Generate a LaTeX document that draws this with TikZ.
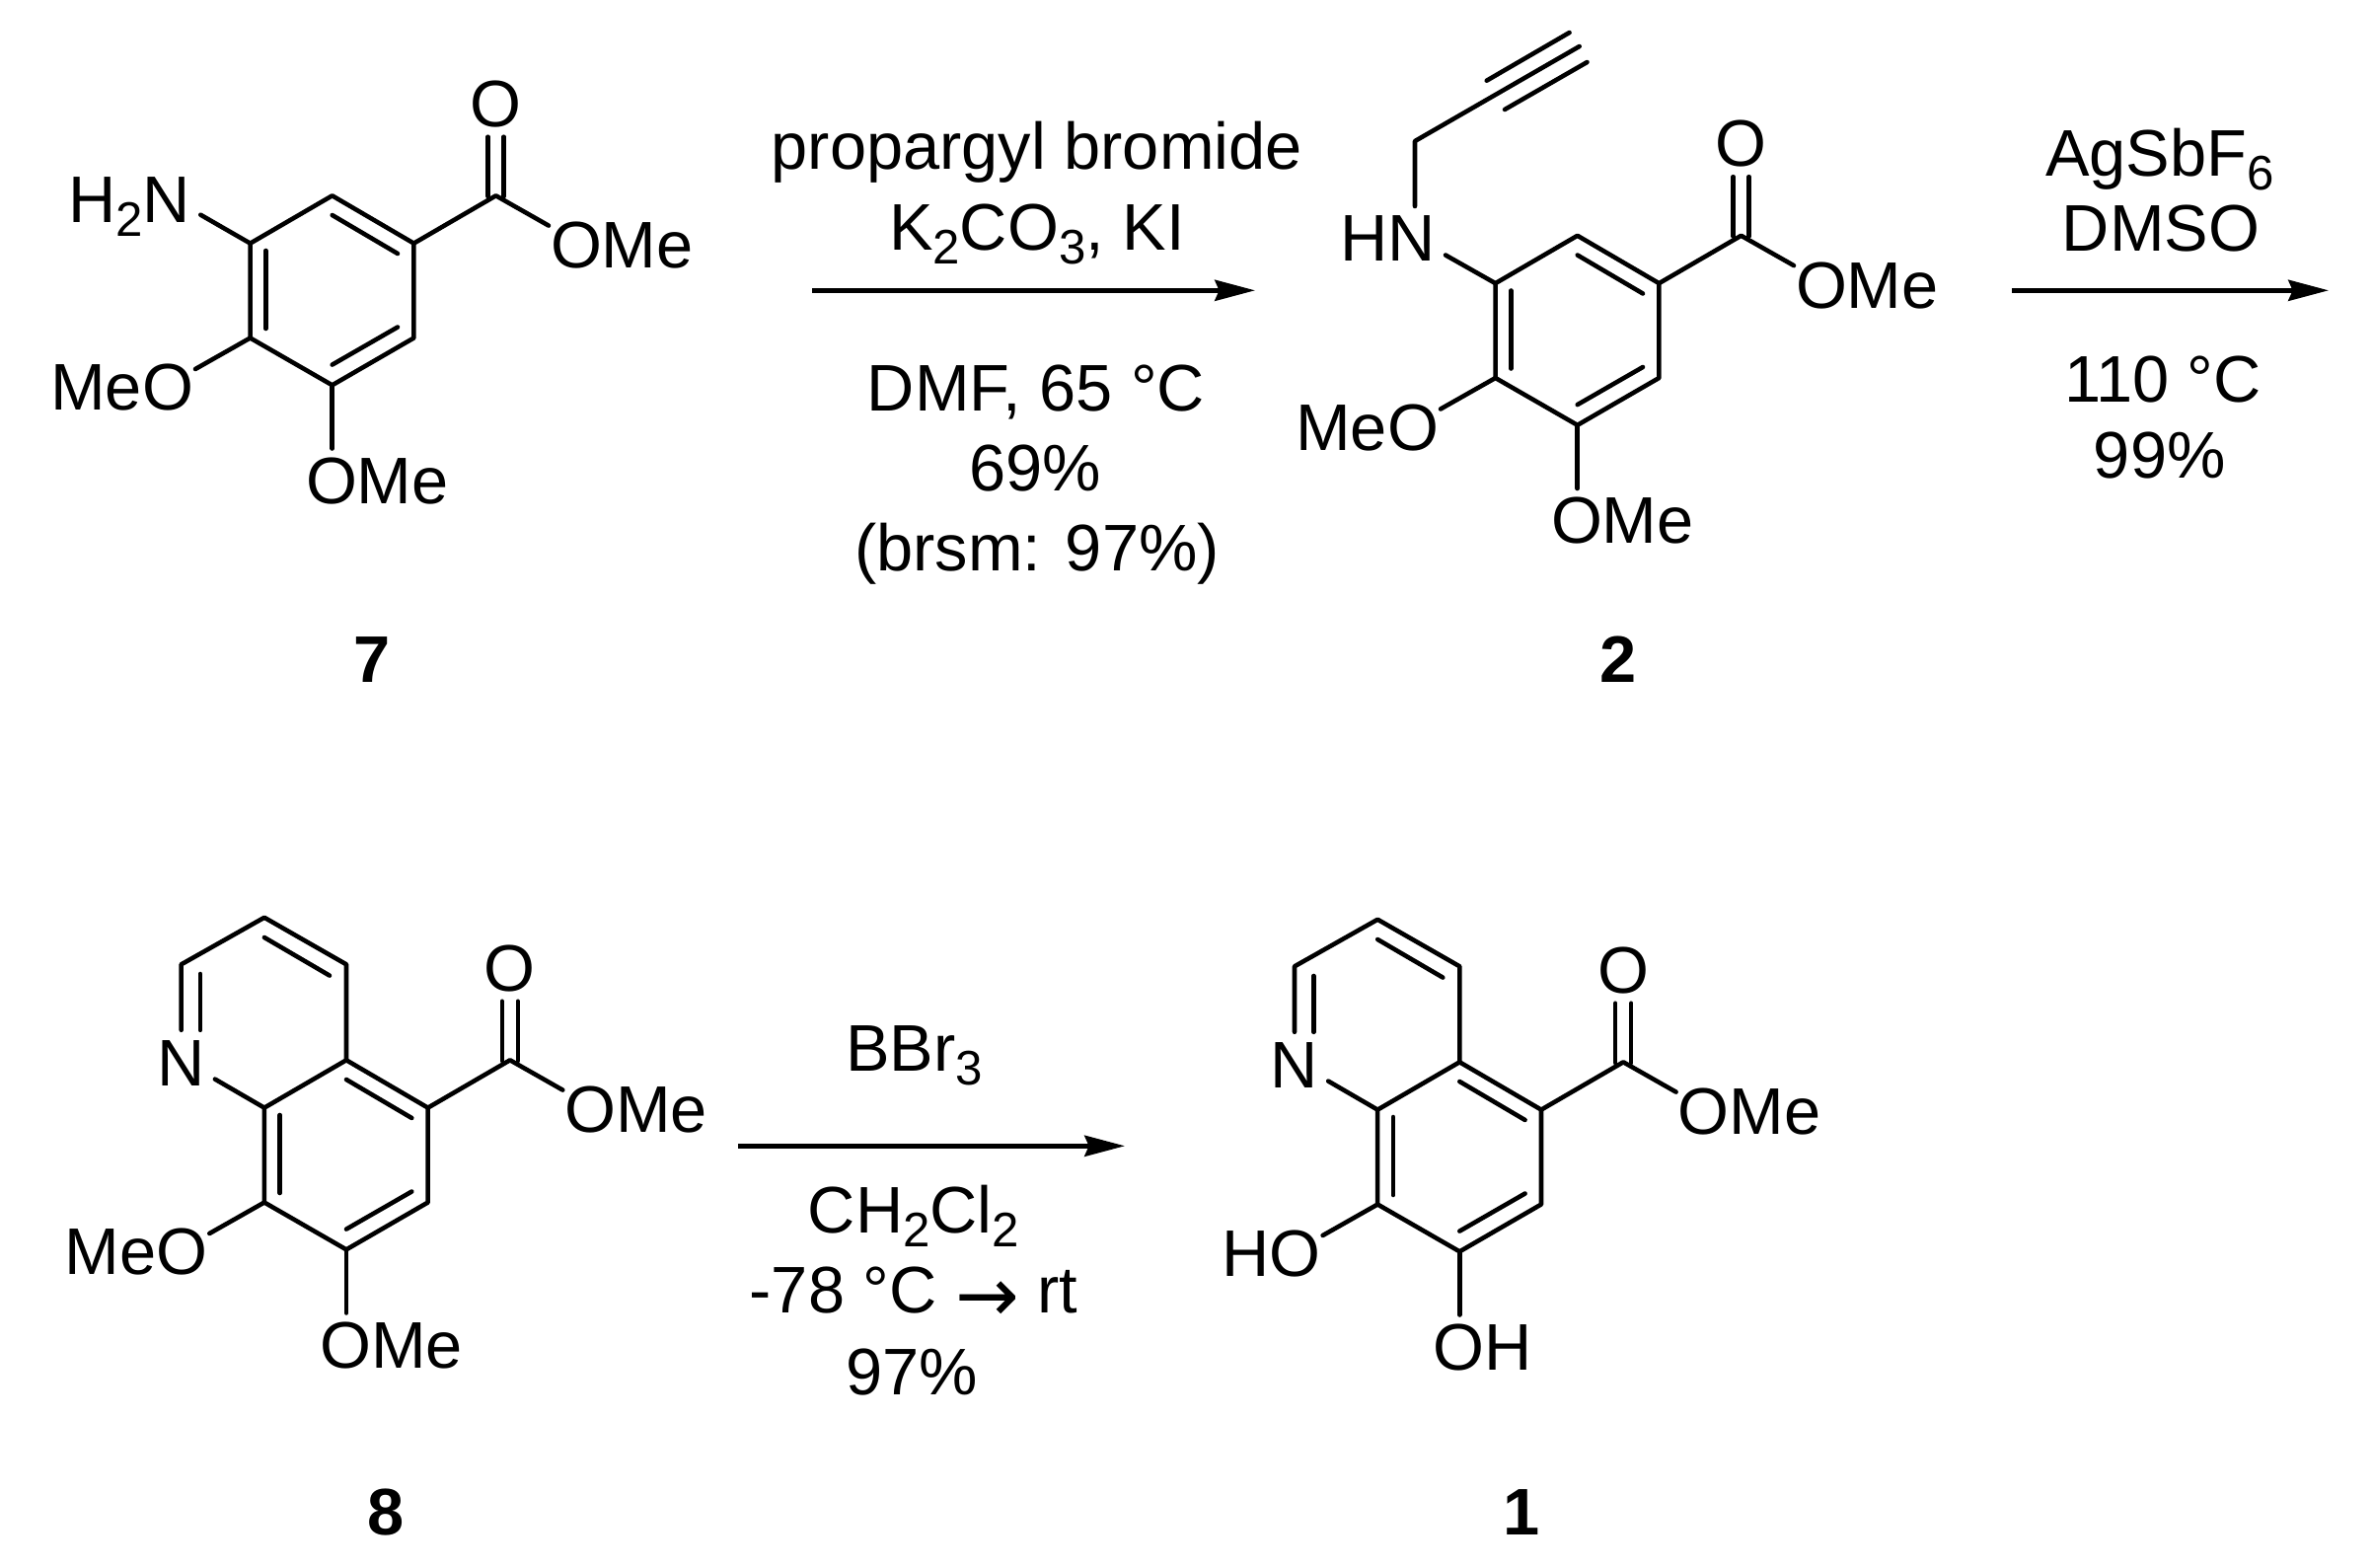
\documentclass[tikz,border=0pt]{standalone}
\usepackage{fontspec}
\setmainfont{Liberation Sans}
\newfontfamily\arrowfont{DejaVu Sans}
\usetikzlibrary{arrows.meta}
\newcommand{\chemsub}[1]{\raisebox{-8pt}{\fontsize{28}{28}\selectfont #1}}
\newcommand{\thinarrow}{{\arrowfont\fontsize{44}{44}\selectfont\raisebox{-5pt}{→}}}
\tikzset{
  bond/.style={draw=black,line width=2.6pt,line cap=round,line join=round},
  rxnarrow/.style={draw=black,line width=2.6pt,-{Stealth[length=23.2pt,width=12pt,inset=2.5pt]}},
  txt/.style={inner sep=0pt,outer sep=0pt,anchor=base,font=\fontsize{38}{42}\selectfont},
  txtw/.style={txt,anchor=base west},
  txte/.style={txt,anchor=base east},
  cmpd/.style={txt,font=\fontsize{38}{42}\selectfont\bfseries}
}
% prefix, dx, dy, left substituent, bottom substituent
\newcommand{\corering}[5]{%
  \begin{scope}[shift={(#2,#3)}]
    \coordinate (#1a) at (336.7,198.3);
    \coordinate (#1b) at (419.4,246.6);
    \coordinate (#1c) at (419.4,342.5);
    \coordinate (#1d) at (336.7,390.3);
    \coordinate (#1e) at (253.6,342.5);
    \coordinate (#1f) at (253.6,246.6);
    \coordinate (#1i1s) at (336.7,218);
    \coordinate (#1i1e) at (403,257);
    \coordinate (#1i2s) at (269.4,254);
    \coordinate (#1i2e) at (269.4,333);
    \coordinate (#1i3s) at (336.7,369.6);
    \coordinate (#1i3e) at (403,331.5);
    \coordinate (#1co) at (502.6,198.3);
    \coordinate (#1d1s) at (494.6,199);
    \coordinate (#1d1e) at (494.6,138.7);
    \coordinate (#1d2s) at (510.6,199);
    \coordinate (#1d2e) at (510.6,138.7);
    \coordinate (#1oe) at (556,228.6);
    \coordinate (#1le) at (198,374);
    \coordinate (#1be) at (336.7,454.5);
    \node[txt] (#1o) at (502.5,128) {O};
    \node[txtw] (#1ome) at (558,271.5) {OMe};
    \node[txte] (#1left) at (196,415.6) {#4};
    \node[txtw] (#1bot) at (310,510) {#5};
  \end{scope}
  \draw[bond] (#1a) -- (#1b) -- (#1c) -- (#1d) -- (#1e) -- (#1f) -- cycle;
  \draw[bond] (#1i1s) -- (#1i1e);
  \draw[bond] (#1i2s) -- (#1i2e);
  \draw[bond] (#1i3s) -- (#1i3e);
  \draw[bond] (#1b) -- (#1co) -- (#1oe);
  \draw[bond] (#1d1s) -- (#1d1e);
  \draw[bond] (#1d2s) -- (#1d2e);
  \draw[bond] (#1e) -- (#1le);
  \draw[bond] (#1d) -- (#1be);
}
% prefix, dx, dy : fused pyridine ring
\newcommand{\pyridine}[3]{%
  \begin{scope}[shift={(#2,#3)}]
    \coordinate (#1p1) at (253.6,53.8);
    \coordinate (#1p2) at (336.7,101.3);
    \coordinate (#1p3) at (169.4,101.3);
    \coordinate (#1p4) at (169.4,167.8);
    \coordinate (#1p5) at (188.7,111);
    \coordinate (#1p6) at (188.7,167.8);
    \coordinate (#1p7) at (253.6,74);
    \coordinate (#1p8) at (319.7,112.6);
    \coordinate (#1p9) at (203.6,217.6);
    \node[txt] (#1n) at (169.4,224) {N};
  \end{scope}
  \draw[bond] (#1a) -- (#1p2) -- (#1p1) -- (#1p3) -- (#1p4);
  \draw[bond] (#1p5) -- (#1p6);
  \draw[bond] (#1p7) -- (#1p8);
  \draw[bond] (#1f) -- (#1p9);
}
\begin{document}
\begin{tikzpicture}[x=0.02cm,y=-0.02cm]
  \useasboundingbox[fill=white] (0,0) rectangle (2405,1589);

  % compound 7
  \corering{g}{0}{0}{MeO}{OMe}
  \node[txte] (gnh) at (193,225) {H\chemsub{2}N};
  \coordinate (gnb) at (203.3,217.7);
  \draw[bond] (gf) -- (gnb);
  \node[cmpd] (c7) at (377.5,691) {7};

  % compound 2
  \corering{t}{1262}{40.5}{MeO}{OMe}
  \node[txte] (tnh) at (1455,264) {HN};
  \coordinate (tnb) at (1465,258.5);
  \coordinate (tn2) at (1434,209);
  \coordinate (tch) at (1434,143);
  \coordinate (tyn) at (1600.7,47);
  \coordinate (ty1s) at (1506.7,81.7);
  \coordinate (ty1e) at (1590.6,33);
  \coordinate (ty2s) at (1525,111);
  \coordinate (ty2e) at (1608.5,63);
  \draw[bond] (tf) -- (tnb);
  \draw[bond] (tn2) -- (tch) -- (tyn);
  \draw[bond] (ty1s) -- (ty1e);
  \draw[bond] (ty2s) -- (ty2e);
  \node[cmpd] (c2) at (1640,691) {2};

  % compound 8
  \corering{h}{14.3}{876}{MeO}{OMe}
  \pyridine{h}{14.3}{876}
  \node[cmpd] (c8) at (391.5,1555) {8};

  % compound 1
  \corering{o}{1142.6}{878}{HO}{OH}
  \pyridine{o}{1142.6}{878}
  \node[cmpd] (c1) at (1542,1555) {1};

  % reaction arrows
  \coordinate (r1s) at (823,294.3);
  \coordinate (r1e) at (1272,294.3);
  \coordinate (r2s) at (2039,294.3);
  \coordinate (r2e) at (2360,294.3);
  \coordinate (r3s) at (748,1161.3);
  \coordinate (r3e) at (1140,1161.3);
  \draw[rxnarrow] (r1s) -- (r1e);
  \draw[rxnarrow] (r2s) -- (r2e);
  \draw[rxnarrow] (r3s) -- (r3e);

  % conditions 1
  \node[txt] (a1) at (1050.8,171) {propargyl bromide};
  \node[txt] (a2) at (1050.8,253.3) {K\chemsub{2}CO\chemsub{3}, KI};
  \node[txt] (a3) at (1050,416) {DMF, 65 °C};
  \node[txt] (a4) at (1049,497.7) {69\%};
  \node[txt] (a5) at (1051,578.3) {(brsm: 97\%)};

  % conditions 2
  \node[txt] (b1) at (2189,178.3) {AgSbF\chemsub{6}};
  \node[txt] (b2) at (2190,254.3) {DMSO};
  \node[txt] (b3) at (2192,407.3) {110 °C};
  \node[txt] (b4) at (2188.7,484) {99\%};

  % conditions 3
  \node[txt] (d1) at (926.7,1085) {BBr\chemsub{3}};
  \node[txt] (d2) at (926,1249.3) {CH\chemsub{2}Cl\chemsub{2}};
  \node[txt] (d3) at (926,1330.7) {-78 °C \thinarrow{} rt};
  \node[txt] (d4) at (924,1413.3) {97\%};
\end{tikzpicture}
\end{document}
